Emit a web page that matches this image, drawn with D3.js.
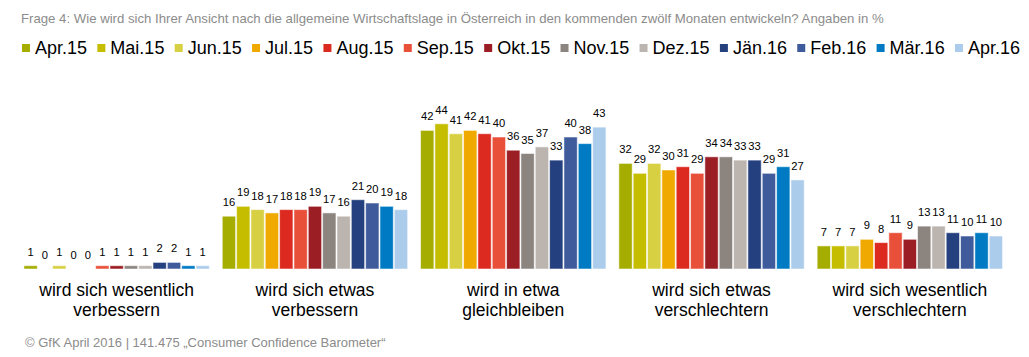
<!DOCTYPE html>
<html><head><meta charset="utf-8">
<script src="https://cdn.jsdelivr.net/npm/d3@7"></script>
<style>
html,body{margin:0;padding:0;background:#fff;}
text{font-family:"Liberation Sans",Arial,sans-serif;}
</style></head>
<body><svg id="chart" width="1029" height="357"></svg>
<script>
const title = "Frage 4: Wie wird sich Ihrer Ansicht nach die allgemeine Wirtschaftslage in Österreich in den kommenden zwölf Monaten entwickeln? Angaben in %";
const footer = "© GfK April 2016 | 141.475 „Consumer Confidence Barometer“";
const series = ["Apr.15","Mai.15","Jun.15","Jul.15","Aug.15","Sep.15","Okt.15","Nov.15","Dez.15","Jän.16","Feb.16","Mär.16","Apr.16"];
const colors = ["#a4ad00","#c4bd00","#d8d043","#f0a900","#dc2a20","#e9503a","#9a1e24","#8c847f","#bbb4af","#24407e","#3f5b9b","#007bc3","#abcdeb"];
const categories = [
  ["wird sich wesentlich","verbessern"],
  ["wird sich etwas","verbessern"],
  ["wird in etwa","gleichbleiben"],
  ["wird sich etwas","verschlechtern"],
  ["wird sich wesentlich","verschlechtern"]
];
const valWesentlichBesser = [1,0,1,0,0,1,1,1,1,2,2,1,1];
const valEtwasBesser      = [16,19,18,17,18,18,19,17,16,21,20,19,18];
const valGleich           = [42,44,41,42,41,40,36,35,37,33,40,38,43];
const valEtwasSchlechter  = [32,29,32,30,31,29,34,34,33,33,29,31,27];
const valWesentlichSchlechter = [7,7,7,9,8,11,9,13,13,11,10,11,10];
const values = [valWesentlichBesser,valEtwasBesser,valGleich,valEtwasSchlechter,valWesentlichSchlechter];

const svg = d3.select("#chart");
const catKeys = categories.map((c,i)=>i);
const x0 = d3.scaleBand().domain(catKeys).range([17.5,1009]).paddingInner(0.06).paddingOuter(0.03);
const x1 = d3.scaleBand().domain(series).range([0,x0.bandwidth()]);
const y = d3.scaleLinear().domain([0,50]).range([269,104]);
const color = d3.scaleOrdinal().domain(series).range(colors);

// title
svg.append("text").attr("x",21).attr("y",23).attr("font-size",13.2).attr("fill","#8c8c8c").text(title);

// legend: fit between x=22 and x=1020
const legG = svg.append("g");
const items = series.map((s,i)=>{
  const g = legG.append("g");
  g.append("rect").attr("y",44).attr("width",8).attr("height",8).attr("fill",colors[i]);
  const t = g.append("text").attr("y",53.5).attr("font-size",18).attr("fill","#000").text(s);
  return {g, t, w: t.node().getComputedTextLength()};
});
const totalText = d3.sum(items, d=>d.w + 13);
const gap = (1020 - 22 - totalText) / (series.length - 1);
let lx = 22;
items.forEach(it=>{
  it.g.select("rect").attr("x",lx);
  it.t.attr("x",lx+13);
  lx += 13 + it.w + gap;
});

// bars
const groups = svg.append("g").selectAll("g").data(catKeys).join("g")
  .attr("transform",d=>`translate(${x0(d)},0)`);
groups.selectAll("rect").data(d=>series.map((s,i)=>({s,v:values[d][i]}))).join("rect")
  .filter(d=>d.v>0)
  .attr("x",d=>x1(d.s)+0.5).attr("width",x1.bandwidth()-1)
  .attr("y",d=>y(d.v)).attr("height",d=>y(0)-y(d.v))
  .attr("fill",d=>color(d.s))
  .attr("stroke","rgba(255,255,255,0.55)").attr("stroke-width",1);
groups.selectAll("text.val").data(d=>series.map((s,i)=>({s,v:values[d][i]}))).join("text")
  .attr("class","val")
  .attr("x",d=>x1(d.s)+x1.bandwidth()/2).attr("y",d=>y(d.v)-10)
  .attr("text-anchor","middle").attr("font-size",11.2).attr("fill","#000")
  .text(d=>d.v);

// category labels
const cl = svg.append("g").selectAll("text").data(catKeys).join("text")
  .attr("x",d=>x0(d)+x0.bandwidth()/2).attr("y",296)
  .attr("text-anchor","middle").attr("font-size",17.5).attr("fill","#000");
cl.each(function(d){
  const t = d3.select(this);
  categories[d].forEach((line,j)=>{
    t.append("tspan").attr("x",x0(d)+x0.bandwidth()/2).attr("dy",j===0?0:20).text(line);
  });
});

// footer
svg.append("text").attr("x",25).attr("y",347).attr("font-size",13).attr("fill","#8c8c8c").text(footer);
</script></body></html>
